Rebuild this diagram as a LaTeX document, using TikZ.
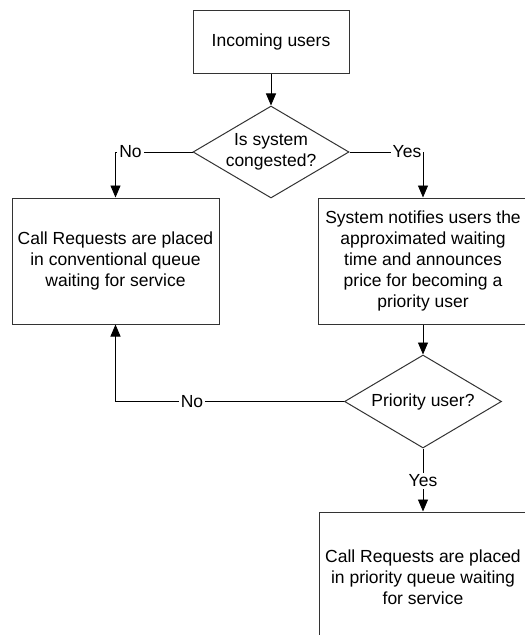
\documentclass[tikz,border=0pt]{standalone}
\usepackage{fontspec}
\setmainfont{Liberation Sans}
\usetikzlibrary{shapes.geometric,arrows.meta}
\begin{document}
\begin{tikzpicture}[x=1pt,y=-1pt,
  every node/.style={font=\fontsize{17.5}{21}\selectfont},
  box/.style={draw=black!80, line width=1pt, align=center, inner sep=0pt},
  decision/.style={diamond, draw=black!80, line width=1pt, align=center, inner sep=0pt, aspect=1.7},
  flow/.style={draw=black, line width=0.9pt},
  arr/.style={flow, -{Triangle[length=12pt,width=10pt]}},
  lbl/.style={fill=white, inner xsep=2pt, inner ysep=2pt}]
\useasboundingbox (0,0) rectangle (525,635);
\clip (0,0) rectangle (525,635);
\fill[white] (0,0) rectangle (525,635);

% process and decision nodes
\node[box, minimum width=156pt, minimum height=63pt] (start) at (271,41.5) {Incoming users};
\node[decision, minimum width=156pt, minimum height=92pt] (cong) at (271,152) {Is system\\congested?};
\node[box, minimum width=207pt, minimum height=126pt] (conv) at (115.5,261) {Call Requests are placed\\in conventional queue\\waiting for service};
\node[box, minimum width=210pt, minimum height=126pt] (notify) at (423,261) {System notifies users the\\approximated waiting\\time and announces\\price for becoming a\\priority user};
\node[decision, minimum width=157pt, minimum height=93pt] (prio) at (423,401.5) {Priority user?};
\node[box, minimum width=208pt, minimum height=130pt] (pq) at (423,577) {Call Requests are placed\\in priority queue waiting\\for service};

% connectors
\draw[arr] (start) -- (cong);
\coordinate (noA) at (conv.north |- cong.west);
\draw[arr] (cong.west) -- (noA) -- (conv.north);
\node[lbl] (noAlbl) at (130.5,152) {No};
\coordinate (yesA) at (notify.north |- cong.east);
\draw[arr] (cong.east) -- (yesA) -- (notify.north);
\node[lbl, inner ysep=5.5pt] (yesAlbl) at (407,152) {Yes};
\draw[arr] (notify) -- (prio);
\coordinate (noB) at (conv.south |- prio.west);
\draw[arr] (prio.west) -- (noB) -- (conv.south);
\node[lbl] (noBlbl) at (192,402) {No};
\draw[arr] (prio) -- (pq);
\node[lbl] (yesBlbl) at (423,481) {Yes};
\end{tikzpicture}
\end{document}
